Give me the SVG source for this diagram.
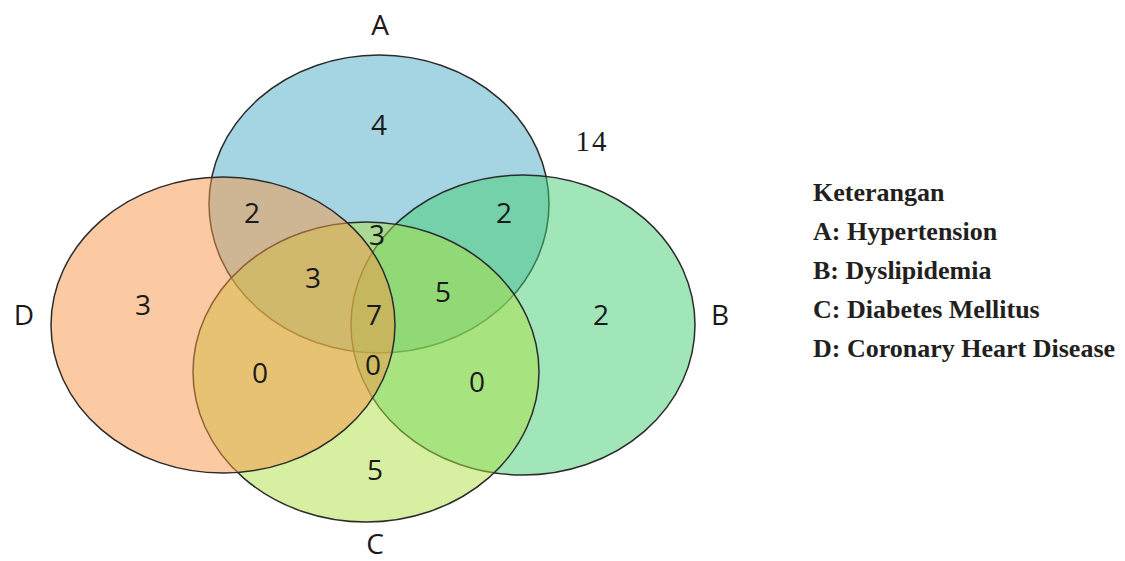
<svg xmlns="http://www.w3.org/2000/svg" width="1125" height="561" viewBox="0 0 1125 561">
<style>
.set{stroke:#2b2b2b;stroke-width:1.5}
.num{font-family:"Open Sans","Liberation Sans",sans-serif;font-size:28px;fill:#1a1a1a;text-anchor:middle}
.lbl{font-family:"Open Sans","Liberation Sans",sans-serif;font-size:28px;fill:#1a1a1a;text-anchor:middle}
.leg{font-family:"Liberation Serif","Times New Roman",serif;font-size:26px;font-weight:bold;fill:#231f20}
</style>
<rect width="1125" height="561" fill="#ffffff"/>
<g id="set-A"><ellipse class="set" cx="379" cy="204" rx="170" ry="149" fill="#4bacc6" fill-opacity="0.5"/></g>
<g id="set-B"><ellipse class="set" cx="523" cy="325" rx="172" ry="150" fill="#44cd72" fill-opacity="0.5"/></g>
<g id="set-C"><ellipse class="set" cx="366" cy="372" rx="173" ry="150" fill="#aee044" fill-opacity="0.5"/></g>
<g id="set-D"><ellipse class="set" cx="223" cy="325" rx="172" ry="148" fill="#f79646" fill-opacity="0.5"/></g>
<g id="labels">
<text class="lbl" x="380" y="35">A</text>
<text class="lbl" x="720" y="325">B</text>
<text class="lbl" x="375" y="554">C</text>
<text class="lbl" x="24" y="325">D</text>
</g>
<g id="counts">
<text class="num" x="379" y="135">4</text>
<text class="num" x="252" y="223">2</text>
<text class="num" x="504" y="223">2</text>
<text class="num" x="377" y="245">3</text>
<text class="num" x="313" y="288">3</text>
<text class="num" x="443" y="302">5</text>
<text class="num" x="374" y="325">7</text>
<text class="num" x="143" y="315">3</text>
<text class="num" x="601" y="325">2</text>
<text class="num" x="373" y="375">0</text>
<text class="num" x="260" y="383">0</text>
<text class="num" x="477" y="392">0</text>
<text class="num" x="375" y="480">5</text>
<text x="592" y="151" style="font-family:'Liberation Serif','Times New Roman',serif;font-size:29px;letter-spacing:2px;fill:#1a1a1a;text-anchor:middle">14</text>
</g>
<g id="legend">
<text class="leg" x="813" y="201">Keterangan</text>
<text class="leg" x="813" y="240">A: Hypertension</text>
<text class="leg" x="813" y="279">B: Dyslipidemia</text>
<text class="leg" x="813" y="318">C: Diabetes Mellitus</text>
<text class="leg" x="813" y="357">D: Coronary Heart Disease</text>
</g>
<g id="connectors"></g>
</svg>
